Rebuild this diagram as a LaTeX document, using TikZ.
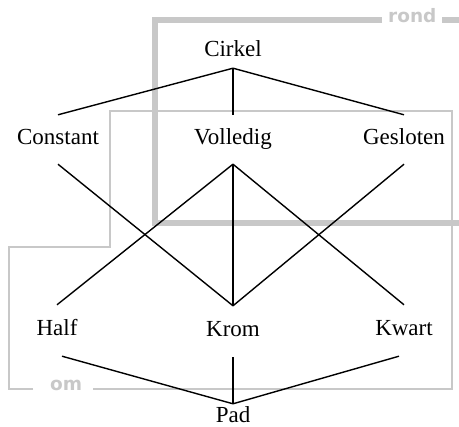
\documentclass[tikz,border=0pt]{standalone}
\usepackage{fontspec}
\setmainfont{Liberation Serif}
\newfontfamily\tagfont{DejaVu Sans}
\definecolor{frame}{HTML}{C8C8C8}
\tikzset{
  lbl/.style={anchor=base, inner xsep=0pt, text height=15pt, text depth=4pt, font=\fontsize{23}{26}\selectfont},
  top/.style={lbl, inner ysep=7pt},
  mid/.style={lbl, inner ysep=15pt},
  low/.style={lbl, inner ysep=16pt},
  bot/.style={lbl, inner ysep=4pt},
  edge/.style={draw=black, line width=1.4pt},
  thickframe/.style={draw=frame, line width=6pt},
  thinframe/.style={draw=frame, line width=2.2pt},
  tag/.style={anchor=base, inner sep=0pt, text=frame, font=\tagfont\bfseries\fontsize{18.5}{20}\selectfont}
}
\begin{document}
\begin{tikzpicture}[x=1pt,y=-1pt]
\useasboundingbox (0,0) rectangle (459,427);
% frames
\coordinate (r1) at (382,20);
\coordinate (r2) at (155,20);
\coordinate (r3) at (155,223);
\coordinate (r4) at (459,223);
\coordinate (r5) at (442,20);
\coordinate (r6) at (459,20);
\draw[thickframe] (r1) -- (r2) -- (r3) -- (r4);
\draw[thickframe] (r5) -- (r6);
\node[tag, anchor=base west] (rond) at (388,23) {rond};
\coordinate (o1) at (33,389);
\coordinate (o2) at (9,389);
\coordinate (o3) at (9,247);
\coordinate (o4) at (110,247);
\coordinate (o5) at (110,111);
\coordinate (o6) at (452,111);
\coordinate (o7) at (452,389);
\coordinate (o8) at (93,389);
\draw[thinframe] (o1) -- (o2) -- (o3) -- (o4) -- (o5) -- (o6) -- (o7) -- (o8);
\node[tag, anchor=base west] (om) at (50,391) {om};
% nodes
\node[top] (cirkel) at (233,57) {Cirkel};
\node[mid] (constant) at (58,145) {Constant};
\node[mid] (volledig) at (233,145) {Volledig};
\node[mid] (gesloten) at (404,145) {Gesloten};
\node[low] (half) at (57,336) {Half};
\node[low] (krom) at (233,337) {Krom};
\node[low] (kwart) at (404,336) {Kwart};
\node[bot] (pad) at (233,423) {Pad};
% edges
\draw[edge] (cirkel.south) -- (constant.north);
\draw[edge] (cirkel.south) -- (volledig.north);
\draw[edge] (cirkel.south) -- (gesloten.north);
\draw[edge] (constant.south) -- (krom.north);
\draw[edge] (volledig.south) -- (half.north);
\draw[edge] (volledig.south) -- (krom.north);
\draw[edge] (volledig.south) -- (kwart.north);
\draw[edge] (gesloten.south) -- (krom.north);
\draw[edge] ([xshift=5pt]half.south) -- (pad.north);
\draw[edge] (krom.south) -- (pad.north);
\draw[edge] ([xshift=-5pt]kwart.south) -- (pad.north);
\end{tikzpicture}
\end{document}
